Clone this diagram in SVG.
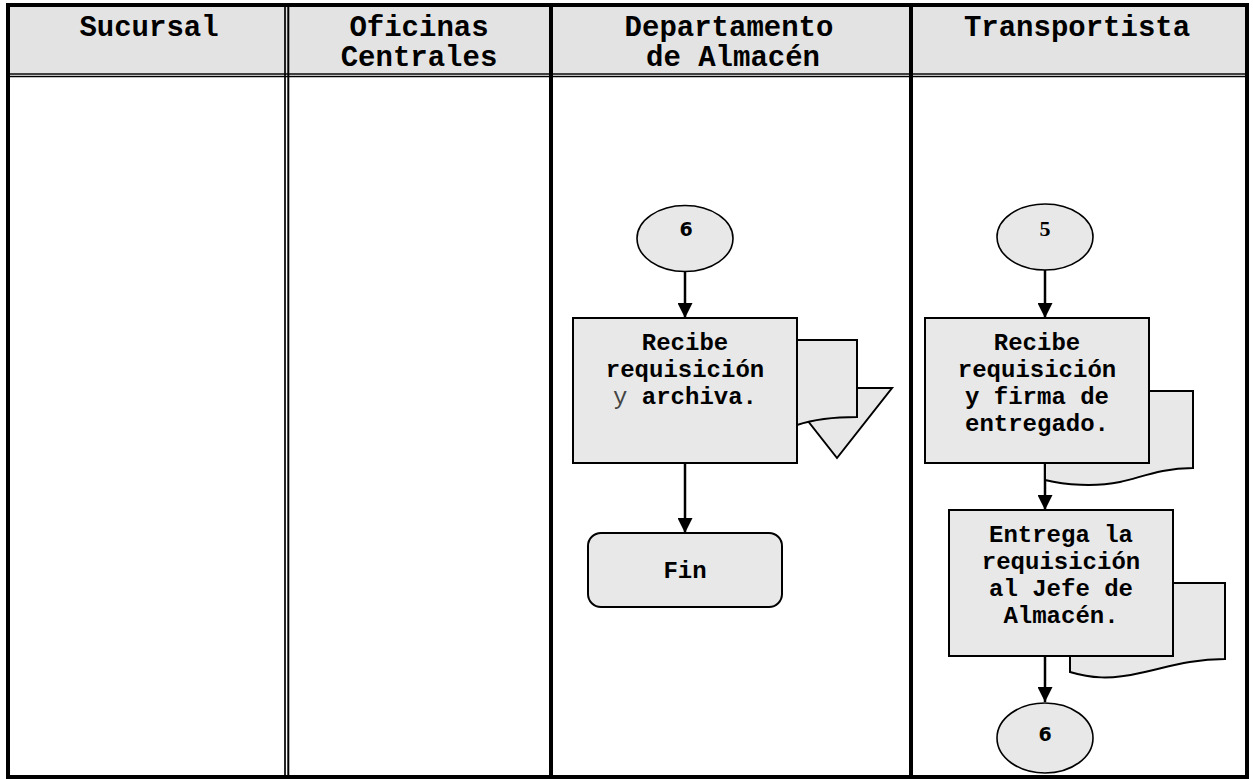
<svg xmlns="http://www.w3.org/2000/svg" width="1253" height="779" viewBox="0 0 1253 779">
<style>
.hdr{font-family:"Liberation Mono","Courier New",monospace;font-weight:bold;font-size:29px;fill:#000;text-anchor:middle}
.txt{font-family:"Liberation Mono","Courier New",monospace;font-weight:bold;font-size:24px;fill:#000;text-anchor:middle}
.thin{font-weight:normal;fill:#444}
.box{fill:#e8e8e8;stroke:#000;stroke-width:2}
.doc{fill:#e8e8e8;stroke:#000;stroke-width:2;stroke-linejoin:miter}
.conn{fill:#e8e8e8;stroke:#000;stroke-width:1.6}
.line{stroke:#000;stroke-width:2.5;fill:none}
.grid{stroke:#000;fill:none}
.num{font-family:"DejaVu Sans",sans-serif;font-weight:bold;font-size:19px;text-anchor:middle}
.numserif{font-family:"Liberation Serif","Times New Roman",serif;font-weight:bold;font-size:22px;text-anchor:middle}
</style>
<defs>
<marker id="arr" viewBox="0 0 10 10" refX="10" refY="5" markerWidth="6" markerHeight="6" markerUnits="strokeWidth" orient="auto">
<path d="M0,0 L10,5 L0,10 Z" fill="#000"/>
</marker>
</defs>
<rect x="0" y="0" width="1253" height="779" fill="#fff"/>
<g id="table">
<rect x="8" y="5" width="1239" height="68" fill="#e3e3e3"/>
<line class="grid" x1="8" y1="74" x2="1247" y2="74" stroke-width="1.4"/>
<line class="grid" x1="8" y1="76.5" x2="1247" y2="76.5" stroke-width="1.6"/>
<line class="grid" x1="285" y1="5" x2="285" y2="777" stroke-width="1.7"/>
<line class="grid" x1="288.3" y1="5" x2="288.3" y2="777" stroke-width="2"/>
<line class="grid" x1="551" y1="5" x2="551" y2="777" stroke-width="4"/>
<line class="grid" x1="911" y1="5" x2="911" y2="777" stroke-width="4"/>
<rect class="grid" x="8" y="5" width="1239" height="772" stroke-width="4"/>
<text class="hdr" x="149" y="36">Sucursal</text>
<text class="hdr" x="419" y="36">Oficinas</text>
<text class="hdr" x="419" y="66">Centrales</text>
<text class="hdr" x="729" y="36">Departamento</text>
<text class="hdr" x="733" y="66">de Almacén</text>
<text class="hdr" x="1077" y="36">Transportista</text>
</g>
<g id="connectors">
<line class="line" x1="685" y1="272" x2="685" y2="318" marker-end="url(#arr)"/>
<line class="line" x1="685" y1="463" x2="685" y2="533" marker-end="url(#arr)"/>
<line class="line" x1="1045" y1="270" x2="1045" y2="318" marker-end="url(#arr)"/>
<line class="line" x1="1045" y1="463" x2="1045" y2="510" marker-end="url(#arr)"/>
<line class="line" x1="1045" y1="656" x2="1045" y2="702" marker-end="url(#arr)"/>
</g>
<g id="conn-6-top">
<ellipse class="conn" cx="685" cy="238.5" rx="48" ry="33"/>
<text class="num" x="686" y="236">6</text>
</g>
<g id="archive">
<path class="doc" d="M782 388 H892 L837 458 Z"/>
</g>
<g id="doc-1">
<path class="doc" d="M780 340 H857 V417 C835 417 815 419 797 425 C790 427 785 428 780 428 Z"/>
</g>
<g id="recibe-archiva">
<rect class="box" x="573" y="318" width="224" height="145"/>
<text class="txt" x="685" y="350">Recibe</text>
<text class="txt" x="685" y="377">requisición</text>
<text class="txt" x="685" y="404"><tspan class="thin">y</tspan> archiva.</text>
</g>
<g id="fin">
<rect class="box" x="588" y="533" width="194" height="74" rx="13" ry="13"/>
<text class="txt" x="685" y="578">Fin</text>
</g>
<g id="conn-5">
<ellipse class="conn" cx="1045" cy="237" rx="48" ry="33"/>
<text class="numserif" x="1045" y="236">5</text>
</g>
<g id="doc-2">
<path class="doc" d="M1045 391 H1193 V468 C1160 468 1140 478 1120 482 C1095 487 1065 485 1045 480 Z"/>
</g>
<g id="recibe-firma">
<rect class="box" x="925" y="318" width="224" height="145"/>
<text class="txt" x="1037" y="350">Recibe</text>
<text class="txt" x="1037" y="377">requisición</text>
<text class="txt" x="1037" y="404">y firma de</text>
<text class="txt" x="1037" y="431">entregado.</text>
</g>
<g id="doc-3">
<path class="doc" d="M1070 583 H1225 V659 C1190 659 1165 668 1140 673 C1110 680 1090 678 1070 672 Z"/>
</g>
<g id="entrega">
<rect class="box" x="949" y="510" width="224" height="146"/>
<text class="txt" x="1061" y="542">Entrega la</text>
<text class="txt" x="1061" y="569">requisición</text>
<text class="txt" x="1061" y="596">al Jefe de</text>
<text class="txt" x="1061" y="623">Almacén.</text>
</g>
<g id="conn-6-bottom">
<ellipse class="conn" cx="1045" cy="738" rx="48" ry="35"/>
<text class="num" x="1045" y="741">6</text>
</g>
</svg>
